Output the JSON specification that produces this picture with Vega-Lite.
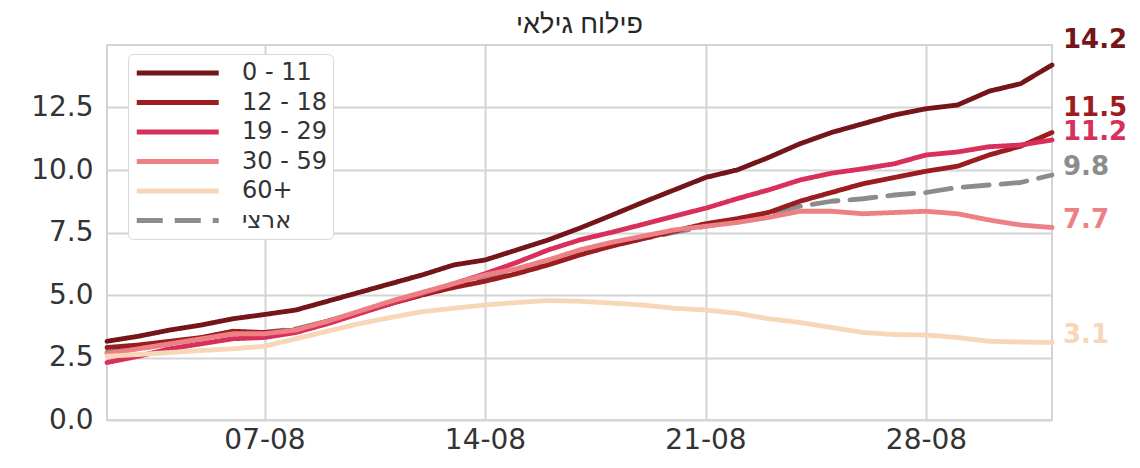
{
  "$schema": "https://vega.github.io/schema/vega-lite/v6.json",
  "width": 945,
  "height": 375,
  "autosize": {"type": "none"},
  "padding": {"left": 107, "top": 45, "right": 88, "bottom": 48},
  "background": "white",
  "title": {"text": "פילוח גילאי", "font": "Liberation Sans", "fontSize": 27, "fontWeight": "normal", "color": "#262626", "anchor": "middle", "frame": "group", "offset": -12},
  "config": {
    "view": {"stroke": "#d4d4d4", "strokeWidth": 2},
    "axis": {"grid": true, "gridColor": "#d4d4d4", "gridWidth": 2, "ticks": false, "domain": false, "labelFont": "DejaVu Sans", "labelFontSize": 28, "labelColor": "#333333", "title": null}
  },
  "datasets": {
    "series": [
      {"group": "ארצי", "date": "2021-08-02", "value": 2.7}, {"group": "ארצי", "date": "2021-08-03", "value": 2.85}, {"group": "ארצי", "date": "2021-08-04", "value": 3.05}, {"group": "ארצי", "date": "2021-08-05", "value": 3.25}, {"group": "ארצי", "date": "2021-08-06", "value": 3.45}, {"group": "ארצי", "date": "2021-08-07", "value": 3.5}, {"group": "ארצי", "date": "2021-08-08", "value": 3.65}, {"group": "ארצי", "date": "2021-08-09", "value": 3.95}, {"group": "ארצי", "date": "2021-08-10", "value": 4.3}, {"group": "ארצי", "date": "2021-08-11", "value": 4.65}, {"group": "ארצי", "date": "2021-08-12", "value": 5.0}, {"group": "ארצי", "date": "2021-08-13", "value": 5.35}, {"group": "ארצי", "date": "2021-08-14", "value": 5.65}, {"group": "ארצי", "date": "2021-08-15", "value": 5.95}, {"group": "ארצי", "date": "2021-08-16", "value": 6.3}, {"group": "ארצי", "date": "2021-08-17", "value": 6.65}, {"group": "ארצי", "date": "2021-08-18", "value": 6.95}, {"group": "ארצי", "date": "2021-08-19", "value": 7.25}, {"group": "ארצי", "date": "2021-08-20", "value": 7.5}, {"group": "ארצי", "date": "2021-08-21", "value": 7.75}, {"group": "ארצי", "date": "2021-08-22", "value": 7.95}, {"group": "ארצי", "date": "2021-08-23", "value": 8.25}, {"group": "ארצי", "date": "2021-08-24", "value": 8.55}, {"group": "ארצי", "date": "2021-08-25", "value": 8.75}, {"group": "ארצי", "date": "2021-08-26", "value": 8.85}, {"group": "ארצי", "date": "2021-08-27", "value": 9.0}, {"group": "ארצי", "date": "2021-08-28", "value": 9.1}, {"group": "ארצי", "date": "2021-08-29", "value": 9.3}, {"group": "ארצי", "date": "2021-08-30", "value": 9.4}, {"group": "ארצי", "date": "2021-08-31", "value": 9.5}, {"group": "ארצי", "date": "2021-09-01", "value": 9.8},
      {"group": "0 - 11", "date": "2021-08-02", "value": 3.15}, {"group": "0 - 11", "date": "2021-08-03", "value": 3.35}, {"group": "0 - 11", "date": "2021-08-04", "value": 3.6}, {"group": "0 - 11", "date": "2021-08-05", "value": 3.8}, {"group": "0 - 11", "date": "2021-08-06", "value": 4.05}, {"group": "0 - 11", "date": "2021-08-07", "value": 4.22}, {"group": "0 - 11", "date": "2021-08-08", "value": 4.4}, {"group": "0 - 11", "date": "2021-08-09", "value": 4.75}, {"group": "0 - 11", "date": "2021-08-10", "value": 5.1}, {"group": "0 - 11", "date": "2021-08-11", "value": 5.45}, {"group": "0 - 11", "date": "2021-08-12", "value": 5.8}, {"group": "0 - 11", "date": "2021-08-13", "value": 6.2}, {"group": "0 - 11", "date": "2021-08-14", "value": 6.4}, {"group": "0 - 11", "date": "2021-08-15", "value": 6.8}, {"group": "0 - 11", "date": "2021-08-16", "value": 7.2}, {"group": "0 - 11", "date": "2021-08-17", "value": 7.67}, {"group": "0 - 11", "date": "2021-08-18", "value": 8.18}, {"group": "0 - 11", "date": "2021-08-19", "value": 8.7}, {"group": "0 - 11", "date": "2021-08-20", "value": 9.2}, {"group": "0 - 11", "date": "2021-08-21", "value": 9.7}, {"group": "0 - 11", "date": "2021-08-22", "value": 10.0}, {"group": "0 - 11", "date": "2021-08-23", "value": 10.5}, {"group": "0 - 11", "date": "2021-08-24", "value": 11.05}, {"group": "0 - 11", "date": "2021-08-25", "value": 11.5}, {"group": "0 - 11", "date": "2021-08-26", "value": 11.85}, {"group": "0 - 11", "date": "2021-08-27", "value": 12.2}, {"group": "0 - 11", "date": "2021-08-28", "value": 12.45}, {"group": "0 - 11", "date": "2021-08-29", "value": 12.6}, {"group": "0 - 11", "date": "2021-08-30", "value": 13.15}, {"group": "0 - 11", "date": "2021-08-31", "value": 13.45}, {"group": "0 - 11", "date": "2021-09-01", "value": 14.2},
      {"group": "12 - 18", "date": "2021-08-02", "value": 2.9}, {"group": "12 - 18", "date": "2021-08-03", "value": 3.0}, {"group": "12 - 18", "date": "2021-08-04", "value": 3.15}, {"group": "12 - 18", "date": "2021-08-05", "value": 3.3}, {"group": "12 - 18", "date": "2021-08-06", "value": 3.55}, {"group": "12 - 18", "date": "2021-08-07", "value": 3.5}, {"group": "12 - 18", "date": "2021-08-08", "value": 3.6}, {"group": "12 - 18", "date": "2021-08-09", "value": 3.95}, {"group": "12 - 18", "date": "2021-08-10", "value": 4.3}, {"group": "12 - 18", "date": "2021-08-11", "value": 4.65}, {"group": "12 - 18", "date": "2021-08-12", "value": 5.0}, {"group": "12 - 18", "date": "2021-08-13", "value": 5.3}, {"group": "12 - 18", "date": "2021-08-14", "value": 5.55}, {"group": "12 - 18", "date": "2021-08-15", "value": 5.85}, {"group": "12 - 18", "date": "2021-08-16", "value": 6.2}, {"group": "12 - 18", "date": "2021-08-17", "value": 6.6}, {"group": "12 - 18", "date": "2021-08-18", "value": 6.95}, {"group": "12 - 18", "date": "2021-08-19", "value": 7.25}, {"group": "12 - 18", "date": "2021-08-20", "value": 7.55}, {"group": "12 - 18", "date": "2021-08-21", "value": 7.85}, {"group": "12 - 18", "date": "2021-08-22", "value": 8.05}, {"group": "12 - 18", "date": "2021-08-23", "value": 8.3}, {"group": "12 - 18", "date": "2021-08-24", "value": 8.75}, {"group": "12 - 18", "date": "2021-08-25", "value": 9.1}, {"group": "12 - 18", "date": "2021-08-26", "value": 9.45}, {"group": "12 - 18", "date": "2021-08-27", "value": 9.7}, {"group": "12 - 18", "date": "2021-08-28", "value": 9.95}, {"group": "12 - 18", "date": "2021-08-29", "value": 10.15}, {"group": "12 - 18", "date": "2021-08-30", "value": 10.6}, {"group": "12 - 18", "date": "2021-08-31", "value": 10.95}, {"group": "12 - 18", "date": "2021-09-01", "value": 11.5},
      {"group": "19 - 29", "date": "2021-08-02", "value": 2.3}, {"group": "19 - 29", "date": "2021-08-03", "value": 2.55}, {"group": "19 - 29", "date": "2021-08-04", "value": 2.85}, {"group": "19 - 29", "date": "2021-08-05", "value": 3.05}, {"group": "19 - 29", "date": "2021-08-06", "value": 3.25}, {"group": "19 - 29", "date": "2021-08-07", "value": 3.3}, {"group": "19 - 29", "date": "2021-08-08", "value": 3.5}, {"group": "19 - 29", "date": "2021-08-09", "value": 3.85}, {"group": "19 - 29", "date": "2021-08-10", "value": 4.25}, {"group": "19 - 29", "date": "2021-08-11", "value": 4.65}, {"group": "19 - 29", "date": "2021-08-12", "value": 5.05}, {"group": "19 - 29", "date": "2021-08-13", "value": 5.45}, {"group": "19 - 29", "date": "2021-08-14", "value": 5.85}, {"group": "19 - 29", "date": "2021-08-15", "value": 6.3}, {"group": "19 - 29", "date": "2021-08-16", "value": 6.8}, {"group": "19 - 29", "date": "2021-08-17", "value": 7.2}, {"group": "19 - 29", "date": "2021-08-18", "value": 7.5}, {"group": "19 - 29", "date": "2021-08-19", "value": 7.82}, {"group": "19 - 29", "date": "2021-08-20", "value": 8.15}, {"group": "19 - 29", "date": "2021-08-21", "value": 8.47}, {"group": "19 - 29", "date": "2021-08-22", "value": 8.85}, {"group": "19 - 29", "date": "2021-08-23", "value": 9.2}, {"group": "19 - 29", "date": "2021-08-24", "value": 9.6}, {"group": "19 - 29", "date": "2021-08-25", "value": 9.87}, {"group": "19 - 29", "date": "2021-08-26", "value": 10.05}, {"group": "19 - 29", "date": "2021-08-27", "value": 10.25}, {"group": "19 - 29", "date": "2021-08-28", "value": 10.6}, {"group": "19 - 29", "date": "2021-08-29", "value": 10.72}, {"group": "19 - 29", "date": "2021-08-30", "value": 10.93}, {"group": "19 - 29", "date": "2021-08-31", "value": 11.0}, {"group": "19 - 29", "date": "2021-09-01", "value": 11.2},
      {"group": "30 - 59", "date": "2021-08-02", "value": 2.65}, {"group": "30 - 59", "date": "2021-08-03", "value": 2.85}, {"group": "30 - 59", "date": "2021-08-04", "value": 3.05}, {"group": "30 - 59", "date": "2021-08-05", "value": 3.25}, {"group": "30 - 59", "date": "2021-08-06", "value": 3.45}, {"group": "30 - 59", "date": "2021-08-07", "value": 3.45}, {"group": "30 - 59", "date": "2021-08-08", "value": 3.6}, {"group": "30 - 59", "date": "2021-08-09", "value": 3.95}, {"group": "30 - 59", "date": "2021-08-10", "value": 4.35}, {"group": "30 - 59", "date": "2021-08-11", "value": 4.75}, {"group": "30 - 59", "date": "2021-08-12", "value": 5.1}, {"group": "30 - 59", "date": "2021-08-13", "value": 5.45}, {"group": "30 - 59", "date": "2021-08-14", "value": 5.8}, {"group": "30 - 59", "date": "2021-08-15", "value": 6.05}, {"group": "30 - 59", "date": "2021-08-16", "value": 6.4}, {"group": "30 - 59", "date": "2021-08-17", "value": 6.8}, {"group": "30 - 59", "date": "2021-08-18", "value": 7.1}, {"group": "30 - 59", "date": "2021-08-19", "value": 7.35}, {"group": "30 - 59", "date": "2021-08-20", "value": 7.6}, {"group": "30 - 59", "date": "2021-08-21", "value": 7.75}, {"group": "30 - 59", "date": "2021-08-22", "value": 7.9}, {"group": "30 - 59", "date": "2021-08-23", "value": 8.1}, {"group": "30 - 59", "date": "2021-08-24", "value": 8.35}, {"group": "30 - 59", "date": "2021-08-25", "value": 8.35}, {"group": "30 - 59", "date": "2021-08-26", "value": 8.25}, {"group": "30 - 59", "date": "2021-08-27", "value": 8.3}, {"group": "30 - 59", "date": "2021-08-28", "value": 8.35}, {"group": "30 - 59", "date": "2021-08-29", "value": 8.25}, {"group": "30 - 59", "date": "2021-08-30", "value": 8.0}, {"group": "30 - 59", "date": "2021-08-31", "value": 7.8}, {"group": "30 - 59", "date": "2021-09-01", "value": 7.7},
      {"group": "60+", "date": "2021-08-02", "value": 2.55}, {"group": "60+", "date": "2021-08-03", "value": 2.62}, {"group": "60+", "date": "2021-08-04", "value": 2.7}, {"group": "60+", "date": "2021-08-05", "value": 2.78}, {"group": "60+", "date": "2021-08-06", "value": 2.85}, {"group": "60+", "date": "2021-08-07", "value": 2.95}, {"group": "60+", "date": "2021-08-08", "value": 3.25}, {"group": "60+", "date": "2021-08-09", "value": 3.55}, {"group": "60+", "date": "2021-08-10", "value": 3.85}, {"group": "60+", "date": "2021-08-11", "value": 4.1}, {"group": "60+", "date": "2021-08-12", "value": 4.33}, {"group": "60+", "date": "2021-08-13", "value": 4.47}, {"group": "60+", "date": "2021-08-14", "value": 4.6}, {"group": "60+", "date": "2021-08-15", "value": 4.7}, {"group": "60+", "date": "2021-08-16", "value": 4.78}, {"group": "60+", "date": "2021-08-17", "value": 4.75}, {"group": "60+", "date": "2021-08-18", "value": 4.68}, {"group": "60+", "date": "2021-08-19", "value": 4.6}, {"group": "60+", "date": "2021-08-20", "value": 4.47}, {"group": "60+", "date": "2021-08-21", "value": 4.4}, {"group": "60+", "date": "2021-08-22", "value": 4.27}, {"group": "60+", "date": "2021-08-23", "value": 4.05}, {"group": "60+", "date": "2021-08-24", "value": 3.9}, {"group": "60+", "date": "2021-08-25", "value": 3.7}, {"group": "60+", "date": "2021-08-26", "value": 3.5}, {"group": "60+", "date": "2021-08-27", "value": 3.42}, {"group": "60+", "date": "2021-08-28", "value": 3.4}, {"group": "60+", "date": "2021-08-29", "value": 3.3}, {"group": "60+", "date": "2021-08-30", "value": 3.15}, {"group": "60+", "date": "2021-08-31", "value": 3.12}, {"group": "60+", "date": "2021-09-01", "value": 3.1}
    ]
  },
  "data": {"name": "series"},
  "layer": [
    {
      "mark": {"type": "line", "strokeWidth": 4.8, "strokeCap": "round", "strokeJoin": "round"},
      "encoding": {
        "x": {
          "field": "date", "type": "temporal",
          "scale": {"type": "utc", "domain": [{"year": 2021, "month": 8, "date": 2, "utc": true}, {"year": 2021, "month": 9, "date": 1, "utc": true}]},
          "axis": {"values": [{"year": 2021, "month": 8, "date": 7, "utc": true}, {"year": 2021, "month": 8, "date": 14, "utc": true}, {"year": 2021, "month": 8, "date": 21, "utc": true}, {"year": 2021, "month": 8, "date": 28, "utc": true}], "format": "%d-%m", "labelPadding": 6}
        },
        "y": {
          "field": "value", "type": "quantitative",
          "scale": {"domain": [0, 15], "nice": false},
          "axis": {"values": [0, 2.5, 5, 7.5, 10, 12.5], "format": ".1f", "labelPadding": 14}
        },
        "color": {
          "field": "group", "type": "nominal",
          "scale": {"domain": ["0 - 11", "12 - 18", "19 - 29", "30 - 59", "60+", "ארצי"], "range": ["#741519", "#9c1d1f", "#d8305a", "#ec8085", "#f8d6b8", "#8c8c8c"]},
          "legend": {"title": null, "orient": "none", "legendX": 21, "legendY": 9, "symbolType": "M-1,0H7", "symbolSize": 420, "symbolStrokeWidth": 5, "labelFont": "DejaVu Sans", "labelFontSize": 24, "labelColor": "#333333", "labelOffset": 82, "padding": 6, "fillColor": "white", "strokeColor": "#d8d8d8", "cornerRadius": 5, "rowPadding": 4.5}
        },
        "strokeDash": {
          "field": "group", "type": "nominal",
          "scale": {"domain": ["0 - 11", "12 - 18", "19 - 29", "30 - 59", "60+", "ארצי"], "range": [[1, 0], [1, 0], [1, 0], [1, 0], [1, 0], [26, 12]]},
          "legend": {"title": null, "orient": "none", "legendX": 21, "legendY": 9, "symbolType": "M-1,0H7", "symbolSize": 420, "symbolStrokeWidth": 5, "labelFont": "DejaVu Sans", "labelFontSize": 24, "labelColor": "#333333", "labelOffset": 82, "padding": 6, "fillColor": "white", "strokeColor": "#d8d8d8", "cornerRadius": 5, "rowPadding": 4.5}
        }
      }
    },
    {
      "transform": [{"filter": "time(datum.date) == utc(2021, 8, 1) && (datum.group == '0 - 11' || datum.group == '12 - 18')"}],
      "mark": {"type": "text", "align": "left", "baseline": "middle", "dx": 11, "dy": -25, "font": "DejaVu Sans", "fontSize": 26, "fontWeight": "bold"},
      "encoding": {
        "x": {"field": "date", "type": "temporal"},
        "y": {"field": "value", "type": "quantitative"},
        "text": {"field": "value", "type": "quantitative", "format": ".1f"},
        "color": {"field": "group", "type": "nominal", "legend": null}
      }
    },
    {
      "transform": [{"filter": "time(datum.date) == utc(2021, 8, 1) && datum.group != '0 - 11' && datum.group != '12 - 18'"}],
      "mark": {"type": "text", "align": "left", "baseline": "middle", "dx": 11, "dy": -8, "font": "DejaVu Sans", "fontSize": 26, "fontWeight": "bold"},
      "encoding": {
        "x": {"field": "date", "type": "temporal"},
        "y": {"field": "value", "type": "quantitative"},
        "text": {"field": "value", "type": "quantitative", "format": ".1f"},
        "color": {"field": "group", "type": "nominal", "legend": null}
      }
    }
  ]
}
